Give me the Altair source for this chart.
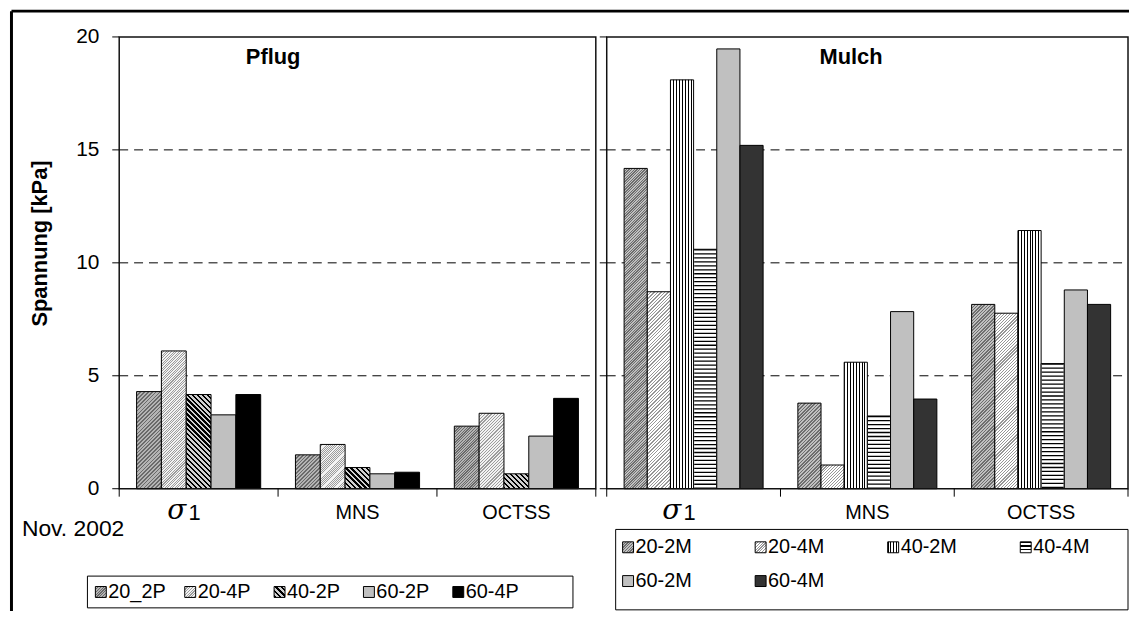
import math
import altair as alt

# ---------------- data ----------------
cats = ["σ1", "MNS", "OCTSS"]

pflug_series = ["20_2P", "20-4P", "40-2P", "60-2P", "60-4P"]
pflug_sigma1 = [4.30, 6.10, 4.17, 3.27, 4.17]
pflug_mns = [1.50, 1.96, 0.94, 0.66, 0.73]
pflug_octss = [2.77, 3.34, 0.66, 2.33, 4.00]

mulch_series = ["20-2M", "20-4M", "40-2M", "40-4M", "60-2M", "60-4M"]
mulch_sigma1 = [14.18, 8.72, 18.10, 10.60, 19.47, 15.20]
mulch_mns = [3.79, 1.05, 5.60, 3.22, 7.84, 3.97]
mulch_octss = [8.16, 7.77, 11.43, 5.54, 8.80, 8.16]

y_ticks = [0, 5, 10, 15, 20]
grid_vals = [5, 10, 15]

# ---------------- styles / layout ----------------
H = 455
YMAX = 20
L_RANGE = [0, 480]
R_RANGE = [491, 1016]
L_PAD_OUT = 0.7
R_PAD_OUT = 0.75
SW = 11  # legend swatch size
FONT = "Liberation Sans"

# kind, period(px), dark fraction, dark colour, light colour
PATTERNS = {
    "20_2P": ("fine_up", 3.0, 0.45, "#6a6a6a", "#b4b4b4"),
    "20-4P": ("fine_up", 3.0, 0.40, "#9c9c9c", "#f2f2f2"),
    "40-2P": ("down", 5.0, 0.45, "#000000", "#d0d0d0"),
    "60-2P": ("solid", "#c0c0c0"),
    "60-4P": ("solid", "#000000"),
    "20-2M": ("fine_up", 3.0, 0.45, "#6e6e6e", "#c0c0c0"),
    "20-4M": ("fine_up", 3.0, 0.40, "#979797", "#ffffff"),
    "40-2M": ("vert", 3.0, 0.34, "#000000", "#ffffff"),
    "40-4M": ("horiz", 4.0, 0.34, "#000000", "#ffffff"),
    "60-2M": ("solid", "#c0c0c0"),
    "60-4M": ("solid", "#333333"),
}
HSTRIPE_DASH = [1.3, 2.7]


def stops_n(n, frac, dark, light):
    stops = []
    for k in range(n):
        a, b, c = k / n, (k + frac) / n, (k + 1) / n
        stops += [{"offset": round(a, 6), "color": dark}, {"offset": round(b, 6), "color": dark},
                  {"offset": round(b, 6), "color": light}, {"offset": round(c, 6), "color": light}]
    return stops


def make_fill(series, w, h, swatch=False):
    p = PATTERNS[series]
    kind = p[0]
    if kind == "solid":
        return p[1]
    _, period, frac, dark, light = p
    h = max(h, 0.5)
    if kind == "vert":
        n = max(1, round(w / period))
        return {"gradient": "linear", "x1": 0, "y1": 0, "x2": 1, "y2": 0,
                "stops": stops_n(n, frac, dark, light)}
    if kind == "horiz":
        if not swatch:
            return light  # stripes drawn by a dashed rule on top
        n = max(1, round(h / period))
        return {"gradient": "linear", "x1": 0, "y1": 0, "x2": 0, "y2": 1,
                "stops": stops_n(n, frac, dark, light)}
    lam = (w + h) / (w * w + h * h)
    if kind == "fine_up":
        raw = (w + h) / period
        n = min(128, 2 ** max(2, round(math.log2(raw))))
        f = 0.5 if n >= 128 else frac
        return {"gradient": "linear", "x1": 0, "y1": 0, "x2": lam * w, "y2": lam * h,
                "stops": stops_n(n, f, dark, light)}
    n = max(1, round((w + h) / period))
    return {"gradient": "linear", "x1": 0, "y1": 1, "x2": lam * w, "y2": 1 - lam * h,
            "stops": stops_n(n, frac, dark, light)}


def bar_rows(series, vals, bar_w):
    rows = []
    for ci, cat in enumerate(cats):
        for si, s in enumerate(series):
            v = vals[ci][si]
            rows.append({"cat": cat, "series": s, "value": v,
                         "pat": make_fill(s, bar_w, v * H / YMAX)})
    return rows


left_w = (L_RANGE[1] - L_RANGE[0]) / 3 / (len(pflug_series) + 2 * L_PAD_OUT)
right_w = (R_RANGE[1] - R_RANGE[0]) / 3 / (len(mulch_series) + 2 * R_PAD_OUT)
left_rows = bar_rows(pflug_series, [pflug_sigma1, pflug_mns, pflug_octss], left_w)
right_rows = bar_rows(mulch_series, [mulch_sigma1, mulch_mns, mulch_octss], right_w)

yscale = alt.Scale(domain=[0, YMAX], nice=False, zero=True)
one = alt.Data(values=[{}])
cat_data = alt.Data(values=[{"cat": c} for c in cats])


def xband(rng, **kw):
    return alt.X("cat:N", scale=alt.Scale(type="band", domain=cats, range=rng,
                                          paddingInner=0, paddingOuter=0), axis=None, **kw)


def xoff(series, pad_out):
    return alt.XOffset("series:N", scale=alt.Scale(domain=series, paddingInner=0,
                                                   paddingOuter=pad_out))


def bars(rows, series, rng, pad_out):
    return alt.Chart(alt.Data(values=rows)).mark_bar(stroke="#000000", strokeWidth=1).encode(
        x=xband(rng), xOffset=xoff(series, pad_out),
        y=alt.Y("value:Q", scale=yscale, axis=None),
        fill=alt.Fill("pat:N", scale=None),
    )


def hstripes(rows, series, rng, pad_out, bar_w):
    names = [s for s in series if PATTERNS[s][0] == "horiz"]
    sub = [r for r in rows if r["series"] in names]
    return alt.Chart(alt.Data(values=sub)).mark_rule(
        color="#000000", strokeWidth=bar_w - 1.2, strokeDash=HSTRIPE_DASH, strokeCap="butt").encode(
        x=xband(rng), xOffset=xoff(series, pad_out),
        y=alt.Y("value:Q", scale=yscale, axis=None), y2=alt.datum(0),
    )


def grid(x0, x1):
    return alt.Chart(alt.Data(values=[{"v": v} for v in grid_vals])).mark_rule(
        color="#000000", strokeWidth=1, strokeDash=[9, 6]).encode(
        y=alt.Y("v:Q", scale=yscale, axis=None), x=alt.value(x0), x2=alt.value(x1))


def yticks(x0, x1):
    return alt.Chart(alt.Data(values=[{"v": v} for v in y_ticks])).mark_rule(
        color="#000000", strokeWidth=1).encode(
        y=alt.Y("v:Q", scale=yscale, axis=None), x=alt.value(x0), x2=alt.value(x1))


def frame(x0, x1):
    return alt.Chart(one).mark_rect(fillOpacity=0, stroke="#111111", strokeWidth=1.5).encode(
        x=alt.value(x0), x2=alt.value(x1), y=alt.value(0), y2=alt.value(H))


def xticks(rng):
    t = alt.Chart(cat_data).mark_rule(color="#000000", strokeWidth=1).encode(
        x=xband(rng, bandPosition=0), y=alt.value(H), y2=alt.value(H + 8))
    e = alt.Chart(one).mark_rule(color="#000000", strokeWidth=1).encode(
        x=alt.value(rng[1]), y=alt.value(H), y2=alt.value(H + 8))
    return [t, e]


def xlabels(rng):
    plain = alt.Chart(cat_data).transform_filter("datum.cat != 'σ1'").mark_text(
        font=FONT, fontSize=20, baseline="middle", align="center", color="#000000").encode(
        x=xband(rng), y=alt.value(479), text="cat:N")
    sig = alt.Chart(cat_data).transform_filter("datum.cat == 'σ1'").mark_text(
        font="DejaVu Serif", fontStyle="italic", fontSize=28, baseline="middle",
        align="center", dx=-22, color="#000000").encode(
        x=xband(rng), y=alt.value(477), text=alt.value("σ"))
    oneL = alt.Chart(cat_data).transform_filter("datum.cat == 'σ1'").mark_text(
        font=FONT, fontSize=22, baseline="middle", align="center", dx=-4,
        color="#000000").encode(x=xband(rng), y=alt.value(479), text=alt.value("1"))
    return [plain, sig, oneL]


def text_at(txt, x, y, size=21, bold=False, align="center", angle=0):
    return alt.Chart(one).mark_text(
        text=txt, font=FONT, fontSize=size, fontWeight="bold" if bold else "normal",
        align=align, baseline="middle", angle=angle, color="#000000").encode(
        x=alt.value(x), y=alt.value(y))


def legend(series, x0, dx, y0, dy, ncol, box):
    rows = [{"name": s, "i": i, "pat": make_fill(s, SW, SW, swatch=True)}
            for i, s in enumerate(series)]
    base = alt.Chart(alt.Data(values=rows)).transform_calculate(
        lx=f"{x0} + {dx} * (datum.i % {ncol})",
        ly=f"{y0} + {dy} * floor(datum.i / {ncol})",
    ).transform_calculate(
        lx2=f"datum.lx + {SW}", ly1=f"datum.ly - {SW / 2}", ly2=f"datum.ly + {SW / 2}",
        tx=f"datum.lx + {SW + 2}",
    )
    sw = base.mark_rect(stroke="#000000", strokeWidth=1).encode(
        x=alt.X("lx:Q", scale=None), x2="lx2:Q",
        y=alt.Y("ly1:Q", scale=None), y2="ly2:Q",
        fill=alt.Fill("pat:N", scale=None))
    tx = base.mark_text(font=FONT, fontSize=20, align="left", baseline="middle",
                        color="#000000").encode(
        x=alt.X("tx:Q", scale=None), y=alt.Y("ly:Q", scale=None), text="name:N")
    bx = alt.Chart(one).mark_rect(fillOpacity=0, stroke="#000000", strokeWidth=1).encode(
        x=alt.value(box[0]), x2=alt.value(box[1]), y=alt.value(box[2]), y2=alt.value(box[3]))
    return [bx, sw, tx]


outer_top = alt.Chart(one).mark_rule(color="#000000", strokeWidth=3).encode(
    x=alt.value(-108.5), x2=alt.value(1030), y=alt.value(-26))
outer_left = alt.Chart(one).mark_rule(color="#000000", strokeWidth=3).encode(
    x=alt.value(-108.5), y=alt.value(-26), y2=alt.value(600))

ylabels = alt.Chart(alt.Data(values=[{"v": v} for v in y_ticks])).mark_text(
    font=FONT, fontSize=21, align="right", baseline="middle", color="#000000").encode(
    y=alt.Y("v:Q", scale=yscale, axis=None), x=alt.value(-20), text="v:Q")

layers = [
    outer_top, outer_left,
    grid(L_RANGE[0], L_RANGE[1]), grid(R_RANGE[0], R_RANGE[1]),
    bars(left_rows, pflug_series, L_RANGE, L_PAD_OUT),
    bars(right_rows, mulch_series, R_RANGE, R_PAD_OUT),
    hstripes(right_rows, mulch_series, R_RANGE, R_PAD_OUT, right_w),
    frame(L_RANGE[0], L_RANGE[1]), frame(R_RANGE[0], R_RANGE[1]),
    yticks(-7, 0), yticks(R_RANGE[0] - 7, R_RANGE[0]), ylabels,
    *xticks(L_RANGE), *xticks(R_RANGE),
    *xlabels(L_RANGE), *xlabels(R_RANGE),
    text_at("Pflug", 155, 20, size=22, bold=True),
    text_at("Mulch", 737, 20, size=22, bold=True),
    text_at("Spannung [kPa]", -80, 208, size=22, bold=True, angle=270),
    text_at("Nov. 2002", -98, 496, size=23, align="left"),
    *legend(pflug_series, -24, 90, 559, 0, 5, (-32, 457, 543, 575)),
    *legend(mulch_series, 507, 133.5, 514, 34, 4, (500, 1016, 496, 577)),
]

chart = alt.layer(*layers).resolve_scale(x="independent", xOffset="independent").properties(
    width=1016, height=H,
    padding={"left": 112, "top": 27, "right": 1, "bottom": 121},
    autosize=alt.AutoSizeParams(type="none"),
).configure_view(stroke=None)

chart.save("out.html", embed_options={"renderer": "svg", "actions": False})
